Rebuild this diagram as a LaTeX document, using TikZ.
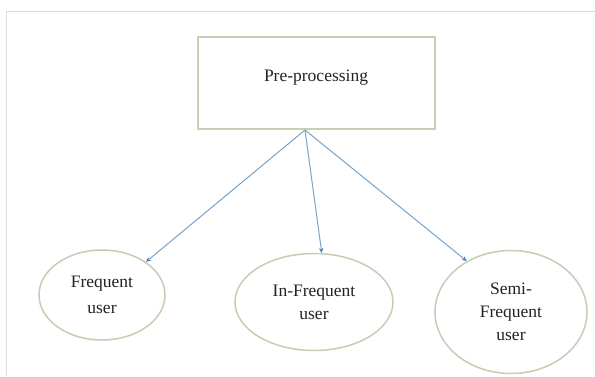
\documentclass[tikz,border=0pt]{standalone}
\usepackage{fontspec}
\setmainfont{Liberation Serif}
\usetikzlibrary{shapes.geometric,arrows.meta}
\definecolor{framegray}{RGB}{220,220,220}
\definecolor{boxline}{RGB}{198,208,178}
\definecolor{ellline}{RGB}{200,204,180}
\definecolor{arrowblue}{RGB}{118,164,204}
\definecolor{tipblue}{RGB}{80,128,188}
\definecolor{textgray}{RGB}{35,35,35}
\tikzset{
  stagebox/.style={draw=boxline, line width=1.8pt, minimum width=237pt, minimum height=92pt, inner sep=0pt},
  usernode/.style={ellipse, draw=ellline, line width=1.5pt, inner sep=0pt, align=center,
    text=textgray, font=\fontsize{17.5}{23}\selectfont},
  lbl/.style={text=textgray, font=\fontsize{17.5}{23}\selectfont, inner sep=0pt},
  flow/.style={draw=arrowblue, line width=1pt, -{Stealth[length=5pt,width=4.5pt,color=tipblue,fill=tipblue]}}
}
\begin{document}
\begin{tikzpicture}[x=1pt,y=-1pt]
  \useasboundingbox (0,0) rectangle (595,376);
  \fill[white] (0,0) rectangle (595,376);
  % outer frame edges
  \draw[framegray, line width=1pt] (6,376) -- (6,11) -- (595,11);
  % pre-processing stage
  \node[stagebox] (pre) at (316.5,83) {};
  \node[lbl] (pretext) at (316,78) {Pre-processing};
  % user categories
  \node[usernode, minimum width=126pt, minimum height=90pt] (f1) at (102,295) {\raisebox{-3pt}{Frequent}\\[6pt]user};
  \node[usernode, minimum width=158pt, minimum height=97pt] (f2) at (314,302) {In-Frequent\\user};
  \node[usernode, minimum width=152pt, minimum height=123pt] (f3) at (511,312) {Semi-\\Frequent\\user};
  % connectors
  \coordinate (src) at (305,130);
  \draw[flow] (src) -- (f1.37);
  \draw[flow] (src) -- (f2.81);
  \draw[flow] (src) -- (f3.131);
\end{tikzpicture}
\end{document}
